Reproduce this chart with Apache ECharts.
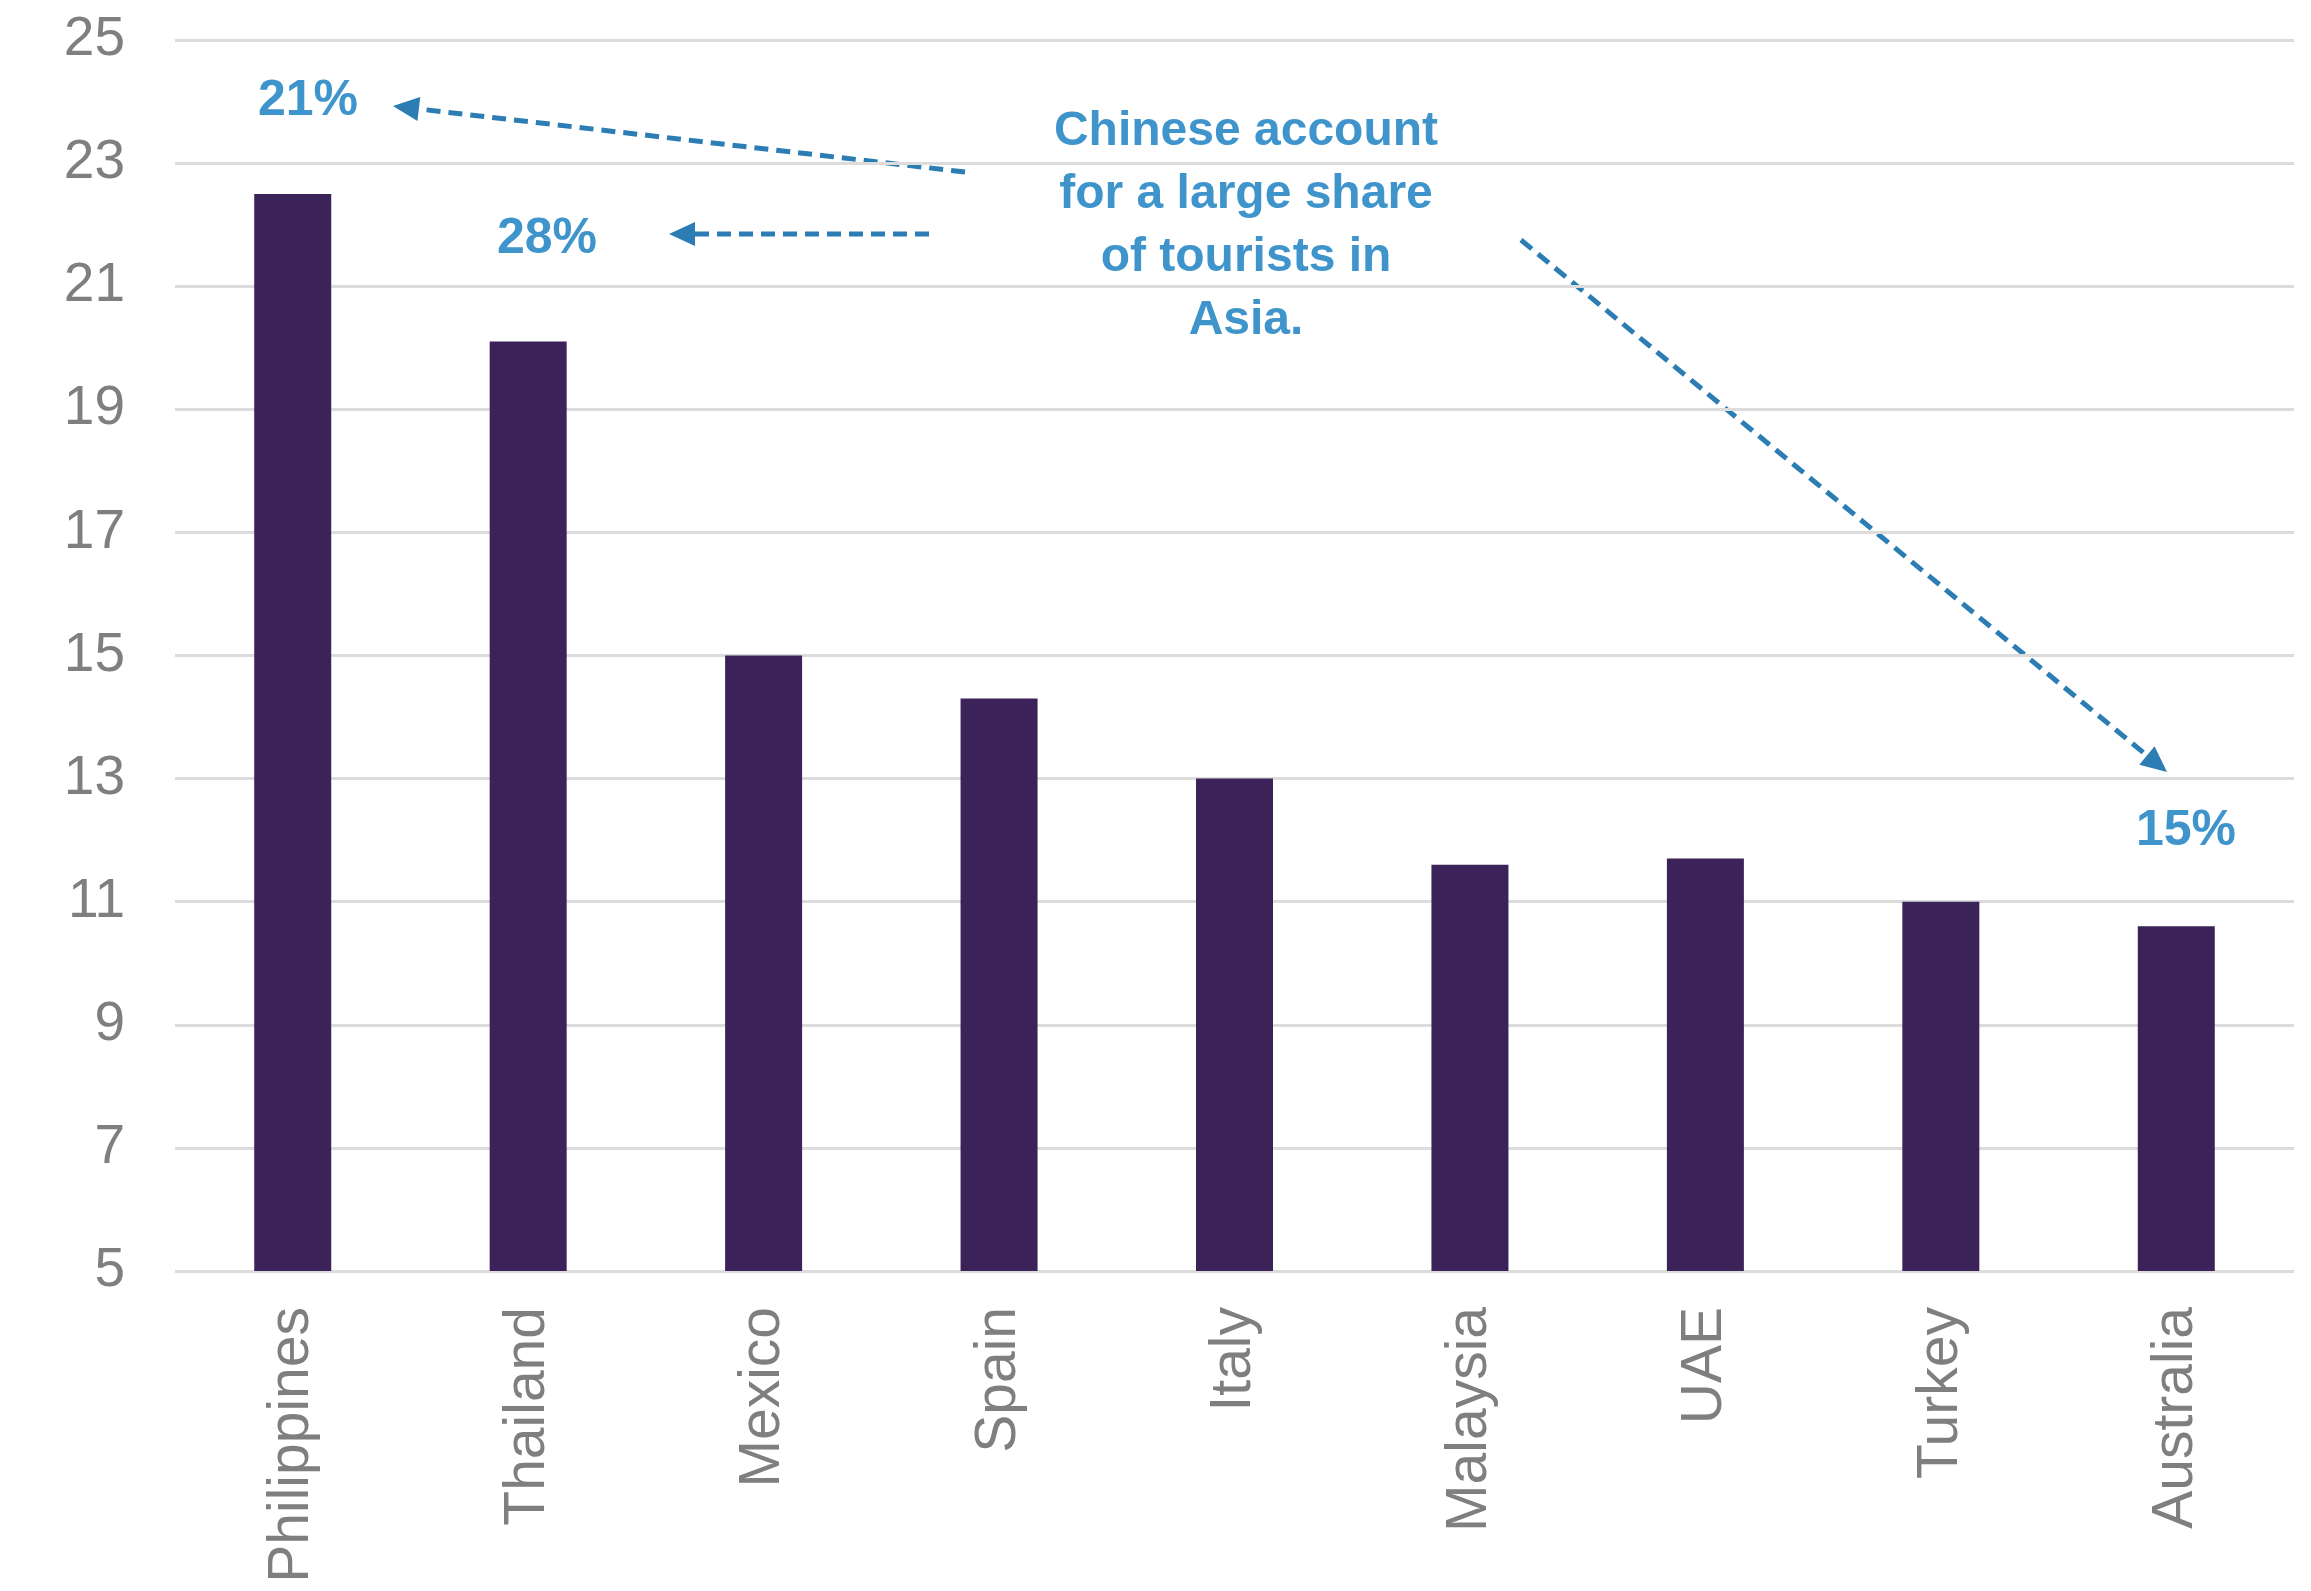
<!DOCTYPE html>
<html>
<head>
<meta charset="utf-8">
<script src="https://cdn.jsdelivr.net/npm/echarts@6/dist/echarts.min.js"></script>
<style>
html,body{margin:0;padding:0;background:#fff;}
#chart{width:2311px;height:1591px;}
</style>
</head>
<body>
<div id="chart"></div>
<script>
const categories = ['Philippines','Thailand','Mexico','Spain','Italy','Malaysia','UAE','Turkey','Australia'];
const values = [22.5, 20.1, 15.0, 14.3, 13.0, 11.6, 11.7, 11.0, 10.6];
const yTicks = [5, 7, 9, 11, 13, 15, 17, 19, 21, 23, 25];
const noteText = 'Chinese account\nfor a large share\nof tourists in\nAsia.';
const shareLabels = ['21%', '28%', '15%'];

const FONT = '"Liberation Sans", Arial, sans-serif';
const TXT = '#3f95cb';
const ARW = '#2b7db3';

function arrow(x1, y1, x2, y2) {
  const ang = Math.atan2(y2 - y1, x2 - x1);
  const L = 26, W = 12;
  const bx = x2 - L * Math.cos(ang), by = y2 - L * Math.sin(ang);
  const px = -Math.sin(ang), py = Math.cos(ang);
  return [
    {type:'line', shape:{x1:x1, y1:y1, x2:bx, y2:by},
     style:{stroke:ARW, lineWidth:5, lineDash:[14,8]}},
    {type:'polygon', shape:{points:[[x2,y2],[bx+px*W,by+py*W],[bx-px*W,by-py*W]]},
     style:{fill:ARW}}
  ];
}

const chart = echarts.init(document.getElementById('chart'));
chart.setOption({
  animation:false,
  backgroundColor:'#fff',
  grid:{left:175, right:17, top:40, bottom:320},
  xAxis:{
    type:'category', data:categories,
    axisLine:{show:false}, axisTick:{show:false},
    axisLabel:{rotate:90, margin:36, fontSize:57, color:'#7f7f7f', fontFamily:FONT}
  },
  yAxis:{
    type:'value', min:yTicks[0], max:yTicks[yTicks.length-1], interval:2,
    axisLine:{show:false}, axisTick:{show:false},
    axisLabel:{margin:50, fontSize:55, color:'#7f7f7f', fontFamily:FONT},
    splitLine:{lineStyle:{color:'#dcdcdc', width:3}}
  },
  series:[{
    type:'bar', data:values, barWidth:77,
    itemStyle:{color:'#3b2259'}
  }],
  graphic:[
    {type:'text', x:1246, y:100, style:{text:noteText, fill:TXT, font:'bold 48px ' + FONT, textAlign:'center', lineHeight:63}},
    {type:'text', x:258, y:76, style:{text:shareLabels[0], fill:TXT, font:'bold 50px ' + FONT}},
    {type:'text', x:497, y:214, style:{text:shareLabels[1], fill:TXT, font:'bold 50px ' + FONT}},
    {type:'text', x:2136, y:806, style:{text:shareLabels[2], fill:TXT, font:'bold 50px ' + FONT}},
    ...arrow(965, 172, 393, 106),
    ...arrow(929, 234, 669, 234),
    ...arrow(1521, 240, 2167, 772)
  ]
});
</script>
</body>
</html>
